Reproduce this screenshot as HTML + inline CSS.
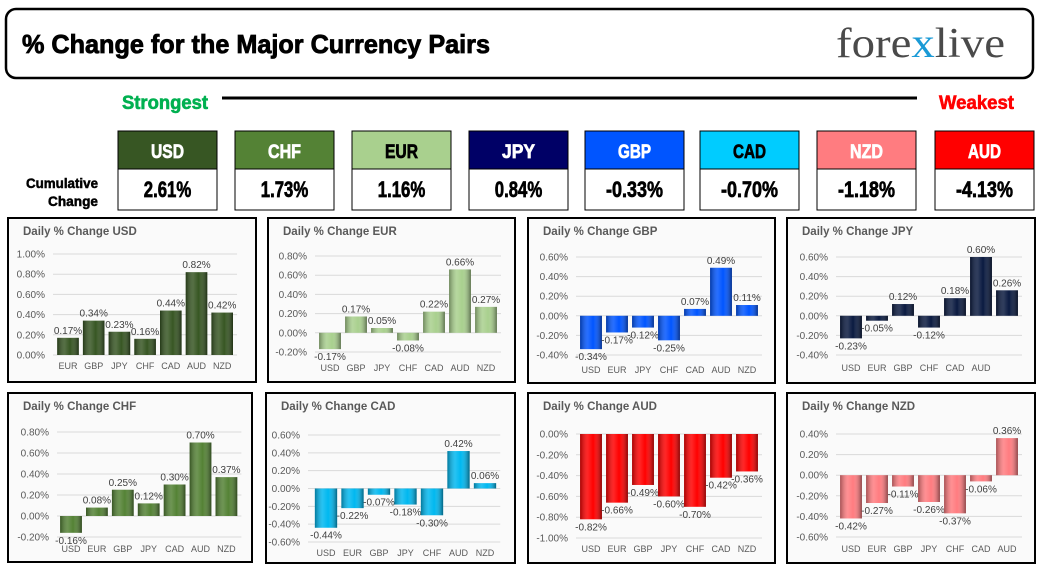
<!DOCTYPE html>
<html><head><meta charset="utf-8"><style>
body{margin:0;background:#fff;}
svg{display:block;font-family:"Liberation Sans",sans-serif;}
.hv{stroke:currentColor;stroke-width:0.7;}
</style></head><body>
<svg id="s" width="1046" height="572" viewBox="0 0 1046 572">
<defs>
<linearGradient id="cyl" x1="0" x2="1" y1="0" y2="0">
<stop offset="0" stop-color="#000" stop-opacity="0.35"/>
<stop offset="0.35" stop-color="#fff" stop-opacity="0.15"/>
<stop offset="0.6" stop-color="#fff" stop-opacity="0"/>
<stop offset="1" stop-color="#000" stop-opacity="0.45"/>
</linearGradient>
</defs>
<rect x="6" y="9" width="1027" height="69" rx="10" fill="#fff" stroke="#000" stroke-width="2.5"/>
<text x="22" y="53" font-size="26" font-weight="bold" stroke="#000" stroke-width="0.8" textLength="468" lengthAdjust="spacingAndGlyphs">% Change for the Major Currency Pairs</text>
<text x="836" y="57" font-family="Liberation Serif,serif" font-size="42" fill="#4a4a4a" textLength="169" lengthAdjust="spacingAndGlyphs">fore<tspan fill="#1a9ad6">x</tspan>live</text>
<text x="122" y="109" font-size="19" font-weight="bold" fill="#00b050" stroke="#00b050" stroke-width="0.6" textLength="86" lengthAdjust="spacingAndGlyphs">Strongest</text>
<line x1="222" y1="98" x2="917" y2="98" stroke="#000" stroke-width="3"/>
<text x="939" y="109" font-size="19" font-weight="bold" fill="#ff0000" stroke="#ff0000" stroke-width="0.6" textLength="75" lengthAdjust="spacingAndGlyphs">Weakest</text>
<text x="98" y="188" font-size="14" font-weight="bold" stroke="#000" stroke-width="0.5" text-anchor="end" textLength="72" lengthAdjust="spacingAndGlyphs">Cumulative</text>
<text x="98" y="206" font-size="14" font-weight="bold" stroke="#000" stroke-width="0.5" text-anchor="end" textLength="50" lengthAdjust="spacingAndGlyphs">Change</text>
<g id="hdr"></g>
<g id="charts"></g>
</svg>
<script>
const hdrCodes=["USD","CHF","EUR","JPY","GBP","CAD","NZD","AUD"];
const hdrVals=["2.61%","1.73%","1.16%","0.84%","-0.33%","-0.70%","-1.18%","-4.13%"];
const hdrX=[118,235,352,469,585,700,817,935];
const hdrFill=["#375623","#548235","#a9d08e","#000066","#0055ff","#00ccff","#ff7c80","#ff0000"];
const hdrText=["#fff","#fff","#000","#fff","#fff","#000","#fff","#fff"];

const usdCats=["EUR","GBP","JPY","CHF","CAD","AUD","NZD"];
const usdVals=[0.17,0.34,0.23,0.16,0.44,0.82,0.42];
const usdTicks=[1.0,0.8,0.6,0.4,0.2,0.0];
const eurCats=["USD","GBP","JPY","CHF","CAD","AUD","NZD"];
const eurVals=[-0.17,0.17,0.05,-0.08,0.22,0.66,0.27];
const eurTicks=[0.8,0.6,0.4,0.2,0.0,-0.2];
const gbpCats=["USD","EUR","JPY","CHF","CAD","AUD","NZD"];
const gbpVals=[-0.34,-0.17,-0.12,-0.25,0.07,0.49,0.11];
const gbpTicks=[0.6,0.4,0.2,0.0,-0.2,-0.4];
const jpyCats=["USD","EUR","GBP","CHF","CAD","AUD",""];
const jpyVals=[-0.23,-0.05,0.12,-0.12,0.18,0.60,0.26];
const jpyTicks=[0.6,0.4,0.2,0.0,-0.2,-0.4];
const chfCats=["USD","EUR","GBP","JPY","CAD","AUD","NZD"];
const chfVals=[-0.16,0.08,0.25,0.12,0.30,0.70,0.37];
const chfTicks=[0.8,0.6,0.4,0.2,0.0,-0.2];
const cadCats=["USD","EUR","GBP","JPY","CHF","AUD","NZD"];
const cadVals=[-0.44,-0.22,-0.07,-0.18,-0.30,0.42,0.06];
const cadTicks=[0.6,0.4,0.2,0.0,-0.2,-0.4,-0.6];
const audCats=["USD","EUR","GBP","JPY","CHF","CAD","NZD"];
const audVals=[-0.82,-0.66,-0.49,-0.60,-0.70,-0.42,-0.36];
const audTicks=[0.0,-0.2,-0.4,-0.6,-0.8,-1.0];
const nzdCats=["USD","EUR","GBP","JPY","CHF","CAD","AUD"];
const nzdVals=[-0.42,-0.27,-0.11,-0.26,-0.37,-0.06,0.36];
const nzdTicks=[0.4,0.2,0.0,-0.2,-0.4,-0.6];

const NS="http://www.w3.org/2000/svg";
function mk(tag,attrs,parent){const e=document.createElementNS(NS,tag);for(const k in attrs)e.setAttribute(k,attrs[k]);parent.appendChild(e);return e;}

const hdr=document.getElementById('hdr');
hdrCodes.forEach((c,i)=>{
  const g=mk('g',{},hdr);
  
  
  mk('rect',{x:hdrX[i],y:131,width:99,height:38,fill:hdrFill[i],stroke:'#000','stroke-width':1},g);
  mk('rect',{x:hdrX[i],y:169,width:99,height:41,fill:'#fff',stroke:'#000','stroke-width':1},g);
  const t=mk('text',{x:hdrX[i]+49.5,y:158,'text-anchor':'middle','font-size':19,'font-weight':'bold',fill:hdrText[i],stroke:hdrText[i],'stroke-width':0.7,textLength:c.length*11,lengthAdjust:'spacingAndGlyphs'},g);
  t.textContent=c;
  const v=mk('text',{x:hdrX[i]+49.5,y:197,'text-anchor':'middle','font-size':22,'font-weight':'bold',fill:'#000',stroke:'#000','stroke-width':0.7,textLength:hdrVals[i].length*9.5,lengthAdjust:'spacingAndGlyphs'},g);
  v.textContent=hdrVals[i];
});

const panels=[
 {name:'usd',title:'Daily % Change USD',cats:usdCats,vals:usdVals,ticks:usdTicks,bx:8,by:218,bw:248,bh:164,yT:254,yB:355,lx:45,cx0:68,step:25.7,cy:369,col:'#375623'},
 {name:'eur',title:'Daily % Change EUR',cats:eurCats,vals:eurVals,ticks:eurTicks,bx:268,by:218,bw:247,bh:164,yT:256,yB:352,lx:307,cx0:330,step:26,cy:371,col:'#a9d08e'},
 {name:'gbp',title:'Daily % Change GBP',cats:gbpCats,vals:gbpVals,ticks:gbpTicks,bx:528,by:218,bw:247,bh:165,yT:257,yB:355,lx:568,cx0:591,step:26,cy:373,col:'#0055ff'},
 {name:'jpy',title:'Daily % Change JPY',cats:jpyCats,vals:jpyVals,ticks:jpyTicks,bx:787,by:218,bw:248,bh:165,yT:257,yB:355,lx:828,cx0:851,step:26,cy:371,col:'#0a1a40'},
 {name:'chf',title:'Daily % Change CHF',cats:chfCats,vals:chfVals,ticks:chfTicks,bx:8,by:393,bw:244,bh:169,yT:432,yB:537,lx:49,cx0:71,step:25.9,cy:552,col:'#548235'},
 {name:'cad',title:'Daily % Change CAD',cats:cadCats,vals:cadVals,ticks:cadTicks,bx:266,by:393,bw:249,bh:170,yT:435,yB:542,lx:300,cx0:326,step:26.5,cy:556,col:'#00b8f0'},
 {name:'aud',title:'Daily % Change AUD',cats:audCats,vals:audVals,ticks:audTicks,bx:528,by:393,bw:247,bh:170,yT:434,yB:538,lx:568,cx0:591,step:26,cy:552,col:'#ff0000'},
 {name:'nzd',title:'Daily % Change NZD',cats:nzdCats,vals:nzdVals,ticks:nzdTicks,bx:787,by:393,bw:248,bh:170,yT:434,yB:537,lx:828,cx0:851,step:26,cy:552,col:'#ff7c80'}
];

const charts=document.getElementById('charts');
panels.forEach(p=>{
  const g=mk('g',{},charts);
  
  
  mk('rect',{x:p.bx,y:p.by,width:p.bw,height:p.bh,fill:'#fafafa',stroke:'#000','stroke-width':2},g);
  const t=mk('text',{x:p.bx+15,y:p.by+17,'font-size':11.5,'font-weight':'bold',fill:'#595959'},g);
  
  
  t.textContent=p.title;
  const tMax=p.ticks[0],tMin=p.ticks[p.ticks.length-1];
  const ys=v=>p.yT+(tMax-v)/(tMax-tMin)*(p.yB-p.yT);
  const xs=i=>p.cx0+i*p.step;
  const gx1=p.lx+8,gx2=xs(p.cats.length-1)+p.step/2+2;
  p.ticks.forEach(tv=>{
    mk('line',{x1:gx1,x2:gx2,y1:ys(tv),y2:ys(tv),stroke:'#d9d9d9','stroke-width':1},g);
    const tl=mk('text',{x:p.lx,y:ys(tv)+3.5,'text-anchor':'end','font-size':10,fill:'#595959'},g);
    
    
    tl.textContent=tv.toFixed(2)+'%';
  });
  const bw=p.step*0.84;
  p.vals.forEach((v,i)=>{
    const y0=ys(0),y1=ys(v);
    const top=Math.min(y0,y1),h=Math.max(Math.abs(y1-y0),1);
    const b=mk('rect',{x:xs(i)-bw/2,y:top,width:bw,height:h,fill:p.col},g);
    
    
    mk('rect',{x:xs(i)-bw/2,y:top,width:bw,height:h,fill:'url(#cyl)'},g);
    const lb=mk('text',{x:xs(i),y:v>=0?y1-4:y1+11,'text-anchor':'middle','font-size':10,fill:'#404040'},g);
    
    
    lb.textContent=v.toFixed(2)+'%';
  });
  p.cats.forEach((c,i)=>{
    const cl=mk('text',{x:xs(i),y:p.cy,'text-anchor':'middle','font-size':9,fill:'#595959'},g);
    
    
    cl.textContent=c;
  });
});
</script>
</body></html>
